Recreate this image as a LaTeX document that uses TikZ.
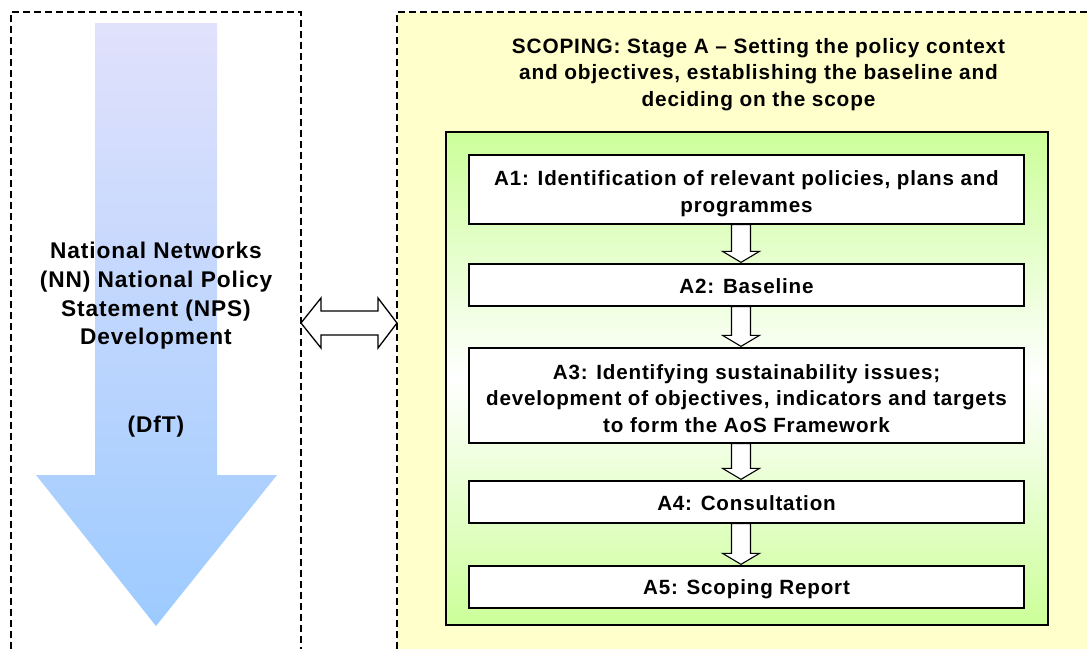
\documentclass[tikz,border=0pt]{standalone}
\usepackage{fontspec}
\setmainfont{Liberation Sans}[LetterSpace=4]
\usetikzlibrary{calc}
\definecolor{stagebg}{HTML}{FFFFCC}
\definecolor{stagegreen}{HTML}{CCFF99}
\definecolor{flowtop}{HTML}{E1E1FC}
\definecolor{flowbot}{HTML}{9DCBFF}
\newcommand\stagearrow[2]{%
  \draw[smallarrow] let \p1=($(#1.south)+(-5.5,0)$), \p2=($(#2.north)+(-5.5,0)$) in
    (\x1-9.5pt,\y1) -- (\x1-9.5pt,\y2+12pt) -- (\x1-18.5pt,\y2+12pt) -- (\x1,\y2+1pt)
    -- (\x1+18.5pt,\y2+12pt) -- (\x1+9.5pt,\y2+12pt) -- (\x1+9.5pt,\y1) -- cycle;}
\begin{document}
\begin{tikzpicture}[x=1pt,y=-1pt,
  frame/.style={draw=black, line width=2pt, dash pattern=on 7pt off 4pt},
  stepbox/.style={draw=black, line width=1.3pt, fill=white, minimum width=555pt, inner sep=0pt},
  steptext/.style={align=center, inner sep=0pt, font=\bfseries\fontsize{20.6}{26.5}\selectfont},
  smallarrow/.style={draw=black, line width=1.1pt, fill=white, line join=miter},
  bigtext/.style={align=center, font=\bfseries\fontsize{22.7}{28.7}\selectfont}]
\useasboundingbox (0,0) rectangle (1087,648);
\clip (0,0) rectangle (1087,648);

% scoping stage panel
\fill[stagebg] (397,12) rectangle (1100,660);
\draw[frame] (397,660) -- (397,12) -- (1100,12);

% NPS development panel
\draw[frame] (11,660) -- (11,12) -- (301,12) -- (301,660);

% downward development arrow
\path[top color=flowtop, bottom color=flowbot]
  (95,23) -- (217,23) -- (217,475) -- (277,475) -- (156,626) -- (36,475) -- (95,475) -- cycle;

\node[bigtext] (nps) at (156,296) {National Networks\\(NN) National Policy\\Statement (NPS)\\Development};
\node[bigtext] (dft) at (156,427) {(DfT)};

% stage title
\node[align=center, font=\bfseries\fontsize{20.8}{26.5}\selectfont] (title) at (758.5,74.5)
  {SCOPING: Stage A -- Setting the policy context\\and objectives, establishing the baseline and\\deciding on the scope};

% green task container
\fill[black!65] (447.2,133.2) rectangle (1049.2,626.2);
\path[top color=stagegreen, bottom color=stagegreen, middle color=white]
  (446,132) rectangle (1048,625);
\draw[black, line width=1.3pt] (446,132) rectangle (1048,625);

% task boxes
\node[stepbox, minimum height=69pt] (a1) at (746.5,189.5) {};
\node[stepbox, minimum height=42pt] (a2) at (746.5,285) {};
\node[stepbox, minimum height=95pt] (a3) at (746.5,395.5) {};
\node[stepbox, minimum height=42pt] (a4) at (746.5,502) {};
\node[stepbox, minimum height=42pt] (a5) at (746.5,587) {};

\node[steptext] (a1t) at ($(a1)+(0,4)$)
  {A1: Identification of relevant policies, plans and\\programmes};
\node[steptext] (a2t) at ($(a2)+(0,1.5)$) {A2: Baseline};
\node[steptext] (a3t) at ($(a3)+(0,3)$)
  {A3: Identifying sustainability issues;\\development of objectives, indicators and targets\\to form the AoS Framework};
\node[steptext] (a4t) at ($(a4)+(0,1.5)$) {A4: Consultation};
\node[steptext] (a5t) at ($(a5)+(0,2.5)$) {A5: Scoping Report};

\stagearrow{a1}{a2}
\stagearrow{a2}{a3}
\stagearrow{a3}{a4}
\stagearrow{a4}{a5}

% two-way link between the panels
\coordinate (lend) at (301,323);
\coordinate (rend) at (397,323);
\draw[smallarrow, line width=1.3pt]
  (lend) -- +(20,-25) -- +(20,-12) -- ($(rend)+(-19,-12)$) -- ($(rend)+(-19,-25)$)
  -- (rend) -- +(-19,25) -- +(-19,12) -- ($(lend)+(20,12)$) -- ($(lend)+(20,25)$) -- cycle;
\end{tikzpicture}
\end{document}
